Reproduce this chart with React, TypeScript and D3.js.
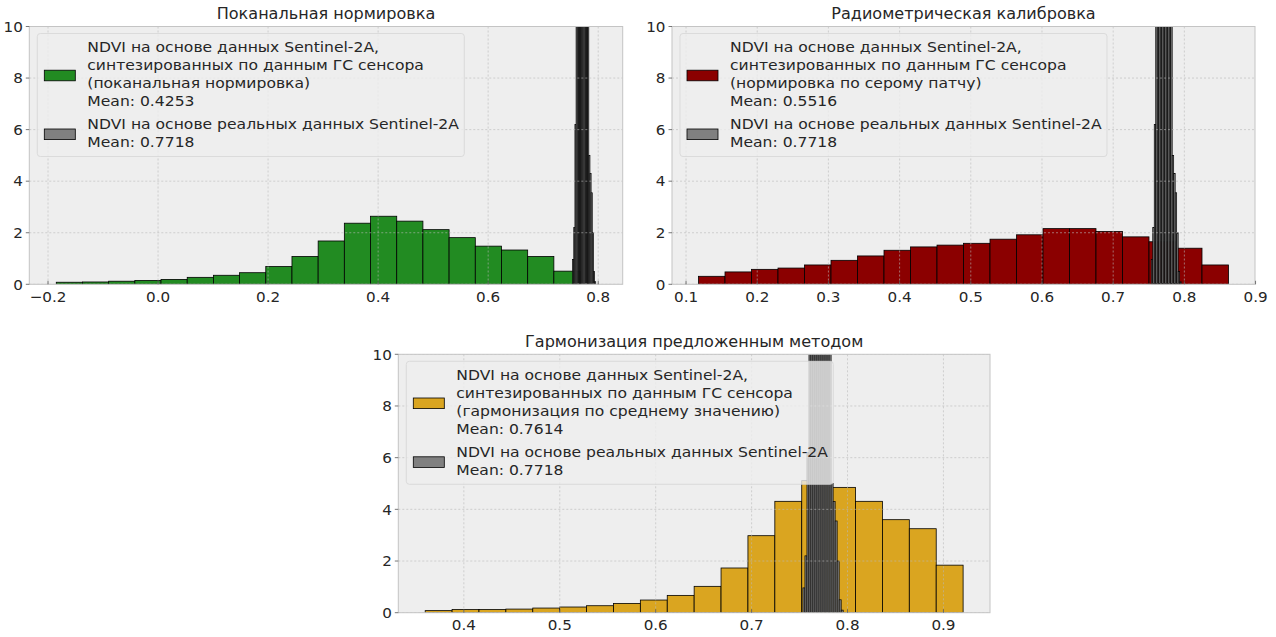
import React from "react";
import * as d3 from "d3";

// ---------- data ----------
const titles = [
  "Поканальная нормировка",
  "Радиометрическая калибровка",
  "Гармонизация предложенным методом",
];

const greenRange = [-0.185, 0.767];
const greenDensity = [0.08, 0.09, 0.12, 0.15, 0.19, 0.27, 0.35, 0.45, 0.69, 1.08, 1.68, 2.37, 2.64, 2.45, 2.12, 1.81, 1.48, 1.33, 1.08, 0.51];

const redRange = [0.1175, 0.862];
const redDensity = [0.31, 0.48, 0.58, 0.63, 0.75, 0.93, 1.1, 1.32, 1.45, 1.52, 1.59, 1.75, 1.92, 2.16, 2.16, 2.05, 1.84, 1.65, 1.4, 0.75];

const goldRange = [0.3597, 0.9205];
const goldDensity = [0.08, 0.12, 0.12, 0.14, 0.18, 0.22, 0.27, 0.36, 0.49, 0.67, 1.02, 1.73, 2.98, 4.31, 5.11, 4.85, 4.31, 3.6, 3.25, 1.84];

const grayRange = [0.7535, 0.7955];
const grayDensity = [0.96, 2.2, 6.2, 14, 25, 38, 48, 55, 58, 56, 50, 42, 35, 30, 5.0, 4.3, 3.55, 2.0, 0.5, 0.1];

const xTicks1 = [-0.2, 0.0, 0.2, 0.4, 0.6, 0.8];
const xTicks2 = [0.1, 0.2, 0.3, 0.4, 0.5, 0.6, 0.7, 0.8, 0.9];
const xTicks3 = [0.4, 0.5, 0.6, 0.7, 0.8, 0.9];
const yTicks = [0, 2, 4, 6, 8, 10];

const legendHead = ["NDVI на основе данных Sentinel-2A,", "синтезированных по данным ГС сенсора"];
const legendMethod = ["(поканальная нормировка)", "(нормировка по серому патчу)", "(гармонизация по среднему значению)"];
const legendMeans = ["Mean: 0.4253", "Mean: 0.5516", "Mean: 0.7614"];
const legendReal = ["NDVI на основе реальных данных Sentinel-2A", "Mean: 0.7718"];

// ---------- styles / layout ----------
const FONT = "DejaVu Sans, sans-serif";
const TEXT = "#262626";
const BG = "#eeeeee";

const panels = [
  { frame: { x: 29.3, y: 26.5, w: 593.4, h: 257.8 }, range: greenRange, dens: greenDensity, color: "#228B22", ticks: xTicks1 },
  { frame: { x: 672, y: 26.5, w: 583, h: 257.8 }, range: redRange, dens: redDensity, color: "#8B0000", ticks: xTicks2 },
  { frame: { x: 398.3, y: 354.3, w: 591.7, h: 258.4 }, range: goldRange, dens: goldDensity, color: "#DAA520", ticks: xTicks3 },
];

function makeBins(range: number[], dens: number[]) {
  const w = (range[1] - range[0]) / dens.length;
  return dens.map((v, i) => ({ x0: range[0] + i * w, x1: range[0] + (i + 1) * w, v }));
}

const fmt = d3.format(".1f");

function Panel({ idx }: { idx: number }) {
  const p = panels[idx];
  const f = p.frame;
  const lo = Math.min(p.range[0], grayRange[0]);
  const hi = Math.max(p.range[1], grayRange[1]);
  const m = (hi - lo) * 0.05;
  const x = d3.scaleLinear().domain([lo - m, hi + m]).range([f.x, f.x + f.w]);
  const y = d3.scaleLinear().domain([0, 10]).range([f.y + f.h, f.y]);
  const bins = makeBins(p.range, p.dens);
  const gbins = makeBins(grayRange, grayDensity);
  const clipId = `clip${idx}`;
  const lx = f.x + 8;
  const ly = f.y + 7;
  const lw = 427;
  const lh = 123;
  const fs = 14.6;
  const sx = 1.068;
  const lines = [legendHead[0], legendHead[1], legendMethod[idx], legendMeans[idx]];
  const lineY = [13.7, 31.4, 49.2, 67];
  const line2Y = [90.3, 108];
  return (
    <g>
      <defs>
        <clipPath id={clipId}>
          <rect x={f.x} y={f.y} width={f.w} height={f.h} />
        </clipPath>
      </defs>
      <rect x={f.x} y={f.y} width={f.w} height={f.h} fill={BG} />
      <g clipPath={`url(#${clipId})`}>
        {bins.map((b, i) => (
          <rect key={"b" + i} x={x(b.x0)} y={y(b.v)} width={x(b.x1) - x(b.x0)} height={y(0) - y(b.v)}
            fill={p.color} stroke="#000" strokeWidth={0.8} />
        ))}
        {gbins.map((b, i) => (
          <rect key={"g" + i} x={x(b.x0)} y={y(b.v)} width={x(b.x1) - x(b.x0)} height={y(0) - y(b.v)}
            fill="#808080" stroke="#000" strokeWidth={0.7} />
        ))}
        {p.ticks.map((t, i) => (
          <line key={"gx" + i} x1={x(t)} x2={x(t)} y1={f.y} y2={f.y + f.h} stroke="#b8b8b8" strokeWidth={0.6} strokeDasharray="2,2" />
        ))}
        {yTicks.map((t, i) => (
          <line key={"gy" + i} x1={f.x} x2={f.x + f.w} y1={y(t)} y2={y(t)} stroke="#b8b8b8" strokeWidth={0.6} strokeDasharray="2,2" />
        ))}
      </g>
      <rect x={f.x} y={f.y} width={f.w} height={f.h} fill="none" stroke="#c4c4c4" strokeWidth={1} />
      {p.ticks.map((t, i) => (
        <g key={"tx" + i}>
          <line x1={x(t)} x2={x(t)} y1={f.y + f.h} y2={f.y + f.h - 3.5} stroke="#555" strokeWidth={0.8} />
          <text transform={`translate(${x(t)},${f.y + f.h + 17.5}) scale(1.04,1)`} textAnchor="middle" fontFamily={FONT} fontSize={14.6} fill={TEXT}>{fmt(t)}</text>
        </g>
      ))}
      {yTicks.map((t, i) => (
        <g key={"ty" + i}>
          <line x1={f.x - 3.5} x2={f.x} y1={y(t)} y2={y(t)} stroke="#555" strokeWidth={0.8} />
          <text transform={`translate(${f.x - 6.5},${y(t)}) scale(1.04,1)`} dy="0.36em" textAnchor="end" fontFamily={FONT} fontSize={14.6} fill={TEXT}>{t}</text>
        </g>
      ))}
      <text transform={`translate(${f.x + f.w / 2},${f.y - 7.5}) scale(1.05,1)`} textAnchor="middle" fontFamily={FONT} fontSize={15.3} fill={TEXT}>{titles[idx]}</text>
      <g>
        <rect x={lx} y={ly} width={lw} height={lh} rx={3} ry={3} fill={BG} fillOpacity={0.8} stroke="#d6d6d6" strokeOpacity={0.8} strokeWidth={1} />
        <rect x={lx + 7} y={ly + 42 - 5.3} width={31} height={10.6} fill={p.color} stroke="#000" strokeWidth={0.8} />
        <rect x={lx + 7} y={ly + 100.8 - 5.3} width={31} height={10.6} fill="#808080" stroke="#000" strokeWidth={0.8} />
        {lines.map((s, i) => (
          <text key={"l" + i} transform={`translate(${lx + 50},${ly + lineY[i]}) scale(${sx},1)`} dy="0.36em" fontFamily={FONT} fontSize={fs} fill={TEXT}>{s}</text>
        ))}
        {legendReal.map((s, i) => (
          <text key={"r" + i} transform={`translate(${lx + 50},${ly + line2Y[i]}) scale(${sx},1)`} dy="0.36em" fontFamily={FONT} fontSize={fs} fill={TEXT}>{s}</text>
        ))}
      </g>
    </g>
  );
}

export default function App() {
  return (
    <svg width={1276} height={637} viewBox="0 0 1276 637"
      style={{ position: "absolute", left: 0, top: 0, display: "block", background: "#ffffff" }}>
      <rect x={0} y={0} width={1276} height={637} fill="#ffffff" />
      <Panel idx={0} />
      <Panel idx={1} />
      <Panel idx={2} />
    </svg>
  );
}
